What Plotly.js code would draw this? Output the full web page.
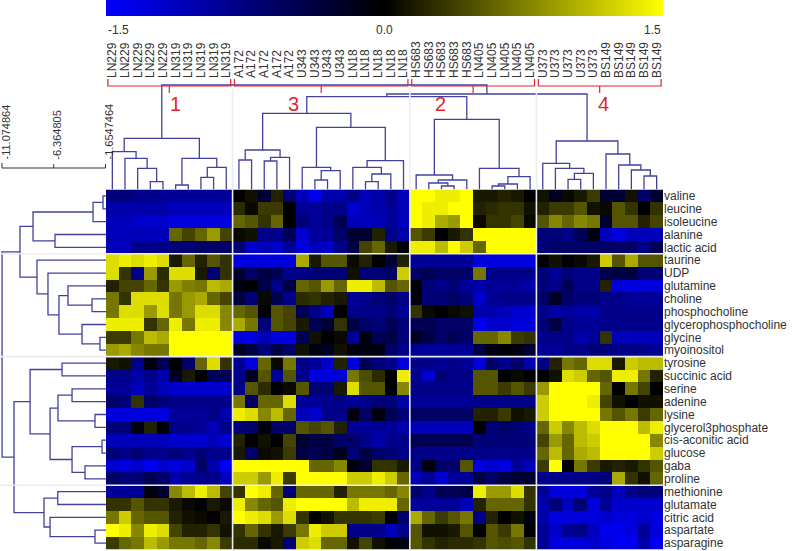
<!DOCTYPE html>
<html><head><meta charset="utf-8">
<script src="https://cdn.plot.ly/plotly-3.0.1.min.js"></script>
<style>html,body{margin:0;padding:0;background:#fff}#chart{width:805px;height:551px}</style>
</head><body><div id="chart"></div>
<script>
// ---------------- data ----------------
var cellLines = ['LN229','LN319','A172','U343','LN18','HS683','LN405','U373','BS149'];
var replicates = [5,5,5,4,5,5,5,5,5];
var metabolites = ['valine','leucine','isoleucine','alanine','lactic acid','taurine','UDP','glutamine','choline','phosphocholine','glycerophosphocholine','glycine','myoinositol','tyrosine','succinic acid','serine','adenine','lysine','glycerol3phosphate','cis-aconitic acid','glucose','gaba','proline','methionine','glutamate','citric acid','aspartate','asparagine'];
var colClusterSizes = [10,14,10,10];
var colClusterNames = ['1','3','2','4'];
var rowClusterSizes = [5,8,10,5];
var colorTicks = [-1.5, 0, 1.5];
var colorTickText = ['-1.5','0.0','1.5'];
var rowScaleTicks = [-11.074864, -6.364805, -1.6547464];
var rowScaleText = ['-11.074864','-6.364805','-1.6547464'];

var zValine = [-0.7,-0.7,-0.8,-0.8,-0.9,-0.9,-0.9,-0.9,-0.9,-0.9, 0,0.1,-0.3,0.2,-0.7,-1.1,-1.4,-1.0,-1.0,-0.8,-1.1,-1.0, -0.8,-1.1, 1.5,1.5,1.4,1.4,1.5, 0.15,0.15,0.2,0.15,0, 0.1,-0.2,0.05,0.15,0.35,-0.3,-0.3,0.1,-0.6,-0.3];
var zLeucine = [-1.0,-1.0,-1.0,-1.0,-1.0,-1.1,-1.1,-1.1,-1.1,-1.1, 0.25,0.05,0.35,0.35,0,-0.9,-0.9,-0.8,-0.8,-1.2,-1.1,-1.0, -0.9,-1.1, 1.5,1.4,1.4,1.5,1.5, 0.2,0.25,0.3,0.3,0.1, 0.2,0.35,0.35,0.5,0.1,0.05,0.5,0.3,0,0.3];
var zIsoleucine = [-1.1,-1.1,-1.2,-1.2,-1.2,-1.3,-1.3,-1.3,-1.3,-1.3, 0.6,0.5,0.3,0.6,0,-0.7,-0.9,-0.8,-0.5,-1.1,-1.1,-1.1, -0.9,-1.1, 1.5,1.4,1.0,0.9,1.5, 0.05,0.3,0.3,0.4,0.05, 0.5,0.8,0.6,0.8,0.7,-0.3,0.5,0.5,0.2,0.4];
var zAlanine = [-1.1,-1.1,-1.1,-1.1,-1.1,0.6,0.4,0.6,0.9,0.4, 0.05,0.1,-0.8,-0.8,-0.5,-1.2,-0.9,-0.9,-0.6,-0.3,-0.3,0.2, -0.8,-1.0, 0.5,0.35,0,0.15,0.3, 1.5,1.5,1.5,1.5,1.5, -0.7,-0.7,-0.8,-0.5,-0.1,-1.1,-1.3,-1.1,-1.1,-1.1];
var zLactic = [-1.1,-1.1,-0.8,-0.8,-0.8,-0.7,-0.7,-0.6,-0.6,-0.6, -0.7,-1.2,-1.1,-1.2,-0.9,-1.3,-1.1,-1.2,-0.8,-0.4,0.4,0.6, 0.15,0, 1.4,1.4,1.1,1.5,1.2, 0.6,1.5,1.5,1.5,1.5, -0.7,-0.6,-0.6,-0.6,-0.6,-0.6,-0.6,-0.6,-0.8,-0.5];
var zTaurine = [1.3,1.4,1.3,1.4,1.3,0.15,0.6,0.2,0.5,0.3, -1.3,-1.3,-1.3,-1.3,-1.3,1.0,0.15,0.5,0.5,0.05,0.2,0, -0.3,0.2, -0.9,-0.9,-0.9,-0.9,-0.9, -1.3,-1.3,-1.3,-1.3,-1.3, 0,0.1,0,0.05,0.15,1.2,0.5,1.0,0.5,0.5];
var zUDP = [1.3,0.3,-0.8,0.9,0.25,1.3,1.3,0.15,-0.7,0.3, -0.3,-0.6,-0.4,-0.5,-0.8,-0.8,-0.7,-0.7,-0.7,0.1,-0.7,-0.7, -0.6,1.2, -0.6,-0.5,-0.6,-0.6,-0.6, 0.7,-0.8,-0.8,-0.8,-0.8, -0.7,-0.9,-0.7,-0.8,-0.8,-0.5,-0.4,-0.4,-0.7,-0.7];
var zGlutamine = [0.2,0.4,0.4,0.6,0.3,0.9,0.75,0.7,1.1,1.0, -0.1,0,-0.4,-0.8,-0.4,0.6,0.5,0.9,0.6,1.4,1.4,1.1, 0.5,0.6, 0,-0.7,-0.8,-0.7,-0.9, -1.0,-0.9,-0.9,-0.9,-1.0, -0.7,-0.8,-0.5,-0.8,-0.8,0.2,-1.3,-1.3,-1.3,-1.3];
var zCholine = [0.7,0.3,1.3,1.3,1.3,0.7,0.9,1.0,0.6,0.4, -0.4,-0.7,0.05,-0.5,-0.8,0.25,0.3,0.2,0.15,-0.9,-0.8,-0.7, -0.6,-0.8, -0.1,-0.7,-0.7,-0.6,-0.7, -1.2,-0.9,-0.8,-0.8,-0.8, -0.6,-0.2,-0.6,-0.7,-0.7,-0.8,-0.8,-0.9,-0.9,-0.9];
var zPhosphocholine = [0.7,1.3,1.3,0.9,1.3,0.7,0.9,1.3,1.3,0.8, 0.6,0.5,0,0.5,0.4,-0.5,-0.8,-1.1,0,-0.8,-0.8,-0.8, -0.7,-0.9, 0.3,0.05,0,0.05,0.1, -1.0,-1.0,-1.1,-1.2,-1.2, -0.8,-1.0,-0.9,-1.0,-1.0,-0.8,-0.8,-0.8,-0.8,-0.8];
var zGPC = [1.4,1.4,1.4,0.3,0.6,1.4,0.7,1.4,1.4,0.8, 1.0,0.7,-0.7,0.5,0.4,0.15,-0.5,-0.3,0.3,-0.4,-0.6,-0.7, -0.5,-0.7, -0.5,-0.5,-0.6,-0.6,-0.6, -1.4,-1.2,-1.2,-1.3,-1.3, -0.7,-0.4,-0.8,-0.9,-0.9,-0.8,-0.8,-0.8,-0.8,-0.8];
var zGlycine = [0.35,0.35,0.7,1.1,1.0,1.5,1.5,1.5,1.5,1.5, -1.3,-1.3,-1.1,-1.3,-1.3,-0.5,0.1,0,0.05,-0.9,-0.1,-0.5, -0.4,-0.7, -0.2,-0.4,-0.6,-0.5,-0.6, 0.6,0.6,0.8,0.35,0.3, -0.8,-0.8,-0.8,-1.0,-0.9,0.3,-1.1,-1.1,-1.1,-1.1];
var zMyoinositol = [0.9,1.0,0.8,0.7,0.7,1.5,1.5,1.5,1.5,1.5, -0.2,-0.4,-0.7,-0.4,-0.6,0.1,-0.1,-0.2,0.1,-0.1,-0.1,-0.1, -0.6,-0.8, -0.9,-0.9,-0.9,-0.9,-0.9, -0.4,-0.1,-0.05,-0.1,-0.3, -0.9,-0.9,-0.8,-0.8,-0.7,-0.7,-0.8,-0.8,-0.8,-0.9];
var zTyrosine = [0.15,0.1,-0.8,-0.1,-0.5,0,-0.6,0.6,1.3,0.3, -0.9,-1.3,0.6,0.05,0.7,-0.8,-0.9,-1.2,0.2,-1.3,-0.5,-0.7, -0.8,-1.3, -0.8,-0.8,-0.9,-0.8,-0.9, -1.3,-0.6,-0.8,-0.6,-1.0, -0.8,0.2,0.7,0.6,1.3,1.3,0.15,1.2,1.1,1.1];
var zSuccinic = [-0.8,-0.8,-1.0,-0.8,-1.0,-0.2,0.15,0,-0.5,-0.5, -0.8,-0.2,0.5,-0.9,0.5,-0.8,-1.3,-1.3,-1.3,0.7,0.45,0.25, 0,1.4, -0.8,-1.2,-0.7,-0.8,-0.8, 0.5,0.5,0,0.05,0, 0,0.1,1.3,1.2,0.6,0.5,1.4,1.4,0.7,0.2];
var zSerine = [-0.9,-0.9,-1.1,-0.9,-1.1,-1.2,-1.2,-1.2,-1.2,-1.2, -0.8,0.5,0.25,0,0.05,0.5,-0.7,-0.7,0.15,1.3,0.5,0.5, 0,0.8, -0.8,-0.8,-0.8,-0.8,-0.8, 0.5,0.5,0.35,0.5,0.35, 0.9,1.5,1.5,1.5,1.5,0.6,0,0.7,0.4,0];
var zAdenine = [-0.6,-0.7,0.3,-0.6,-0.7,-0.8,-0.8,-0.8,-0.8,-0.8, 0.7,-0.6,0.6,0.6,1.3,-0.9,-0.9,-0.8,-0.8,-0.9,-0.8,-0.7, -0.7,-1.0, -0.9,-0.9,-0.9,-0.9,-0.9, -0.8,-0.8,-0.8,-0.8,-0.8, 1.2,1.5,1.5,1.5,1.4,0.4,0.1,0,0.1,0.1];
var zLysine = [-1.3,-1.3,-1.3,-1.3,-1.3,-0.9,-0.9,-0.9,-0.8,-1.0, 1.4,1.3,0.8,1.1,0.6,-1.1,-1.2,-0.8,-0.8,-0.1,-0.6,-0.1, -0.5,-0.7, -0.6,-0.6,-0.6,-0.6,-0.6, 0.2,0.2,0.35,0.1,0.15, 1.2,1.5,1.5,1.5,1.5,0.7,0.5,0.7,0.35,0.6];
var zG3P = [-0.7,-0.7,-0.1,0.2,0,-0.8,-0.8,-0.9,-1.1,-0.8, -0.7,-0.6,-0.1,-0.6,-0.6,0.5,0.4,0.5,0.2,-0.9,-0.9,-0.9, -0.9,-1.0, -1.1,-1.1,-1.1,-1.1,-1.1, 0,-0.7,-0.6,-0.7,-0.8, 0.6,1.2,0.8,1.1,1.3,1.5,1.5,1.5,1.1,1.4];
var zCisAconitic = [-1.1,-1.1,-1.1,-1.1,-1.1,-1.2,-1.2,-1.2,-1.1,-1.2, 0.2,0,0.1,0,0.4,-0.3,-0.4,-0.4,-0.6,-0.6,-0.8,-1.0, -0.8,-0.8, -0.5,-0.5,-0.5,-0.5,-0.5, -0.7,-0.7,-0.7,-0.7,-0.7, 0.4,0.9,0.6,1.1,1.2,1.5,1.5,1.5,1.5,0.8];
var zGlucose = [-0.7,-0.8,-0.7,-0.8,-0.8,-0.7,-0.8,-0.7,-0.8,-0.8, 0.15,-0.6,0.05,0.1,0.35,-0.4,-0.5,-0.4,-0.2,-0.7,-0.4,-0.6, -0.7,-0.8, -0.8,-0.8,-0.8,-0.8,-0.8, -0.8,-0.8,-0.8,-0.8,-0.8, 0.6,1.1,0.6,1.0,1.1,1.5,1.5,1.5,1.5,1.2];
var zGaba = [-1.2,-1.3,-1.2,-1.4,-1.2,-1.3,-1.2,-0.6,-1.0,-1.4, 1.5,1.5,1.5,1.5,1.5,1.5,0.6,0.6,0.8,-0.1,-0.3,0.3, 0.3,0.15, -0.8,-0.1,-0.6,-0.6,0.5, -1.3,-1.2,-1.3,-0.9,-1.1, 0.35,1.5,0,0.7,0.35,0.15,0.2,0.15,0.3,0.5];
var zProline = [-0.6,-0.7,-0.7,-0.5,-0.6,-1.0,-0.9,-0.8,-0.8,-1.1, 1.2,1.2,0.9,1.4,0.35,1.5,1.5,1.5,1.5,1.2,1.2,1.4, 1.2,0.6, -1.1,-0.9,-1.2,-0.9,-0.9, -0.4,-0.6,-0.4,-0.3,-0.3, -0.8,-0.8,-0.8,-0.8,-0.8,-0.7,1.0,0.3,0.1,0.6];
var zMethionine = [-0.9,-0.9,-0.9,-0.1,-0.3,0.8,1.1,1.4,1.1,0.4, 0.3,1.5,1.4,0.6,-0.7,0.6,0.6,0.6,0.2,0.7,0.7,0.7, 0.6,0.8, -0.6,-0.8,-0.5,-0.5,-0.4, 1.4,0.9,0.9,1.3,0.3, -0.9,-1.3,-1.3,-1.3,-0.9,-0.8,-1.1,-0.8,-0.7,-0.7];
var zGlutamate = [0.3,0.3,0.5,0.3,0.3,0.15,0.05,0,0.15,0.05, 1.4,0.8,0.6,0.5,1.4,1.5,1.5,1.5,1.5,1.1,1.4,1.4, 1.4,0.6, -0.9,-0.9,-0.9,-0.9,-1.1, 0.2,0.6,0.6,0.6,0.3, -1.0,-0.7,-1.1,-0.7,-1.3,-0.9,-1.2,-1.2,-1.2,-1.2];
var zCitric = [0.7,1.2,0.6,0.5,0.5,0.2,0.1,0.05,0,0.15, 1.5,1.4,1.3,0.9,1.3,0.3,0,0.1,0.3,0.3,0.3,0.35, 0,-0.6, 1.0,0.6,0.35,0.5,0.7, -0.8,0.2,0,0.1,-0.1, -1.0,-1.3,-1.3,-1.3,-1.3,-1.2,-1.3,-1.3,-1.2,-1.3];
var zAspartate = [1.5,1.4,0.8,1.4,1.3,0.4,0.2,0.2,0.3,0.1, 0.3,0.6,0.3,0.15,0.35,0.7,1.4,1.2,1.2,-0.8,-0.8,-0.8, -1.1,-0.8, 0.5,0.1,0.1,0.15,0.5, 0,0.5,0.35,0.7,0, -0.9,-1.2,-0.9,-0.8,-1.1,-1.4,-1.4,-1.3,-0.9,-1.3];
var zAsparagine = [0.35,0.6,0.7,1.1,0.9,0.7,0.7,0.6,0.8,0.35, 0.25,0.25,0.05,0.15,-0.7,1.2,1.3,0.6,0.6,0.1,0.4,0.1, 0,-0.1, 0.5,0.3,0.2,0.25,0.25, 0.3,0.5,0.45,0.5,0.3, -0.9,-1.3,-1.3,-1.3,-1.2,-1.3,-1.4,-1.4,-1.0,-1.4];

// dendrograms: [left, right, mergeHeight]; leaves are column / row indices
var colG1 = [[0,[1,[2,[3,4,7.8],21.2],31.2],37.8], [[5,6,4.5],[[7,8,12.2],9,22.2],31.2], 51.2];
var colG3 = [[[10,11,29.5],[[12,13,28.5],14,32.2],39.5], [[15,[[16,17,9.5],18,18.8],22.2],[[19,[[20,21,7.8],22,15.5],22.2],23,28.8],62.2], 76.2];
var colG2 = [[24,[[25,[26,27,3.5],6.5],28,9.5],14.5], [29,[[[30,31,3.5],32,5.5],33,12.8],21.2], 70.2];
var colG4 = [[34,[35,[[36,37,10.2],38,16.2],21.2],26.2], [39,[40,[41,[42,43,13.5],19.5],24.5],35.5], 48.5];
var colTree = [colG1, [[colG3, colG2, 92.8], colG4, 95.5], 104.5];

var rowA = [[[0,1,-1.88],2,-2.79], [3,4,-6.25], -8.25];
var rowB = [5,[6,[[7,[8,9,-2.88],-5.07],[10,[11,12,-2.16],-3.79],-5.89],-6.89],-7.89];
var rowC = [[13,14,-5.61],[[[15,16,-4.70],[17,18,-2.61],-5.98],[[19,20,-1.97],[21,22,-3.52],-4.70],-6.70],-8.52];
var rowD = [[23,24,-6.0],[25,[26,27,-2.61],-6.70],-7.25];
var rowTree = [[rowA, rowB, -9.44], [rowC, rowD, -9.98], -11.07];

// ---------------- build ----------------
var W = 805, H = 551;
function px(v) { return v / W; }
function py(v) { return 1 - v / H; }
var colLabels = [];
for (var i = 0; i < cellLines.length; i++) for (var k = 0; k < replicates[i]; k++) colLabels.push(cellLines[i]);
var nCol = colLabels.length, nRow = metabolites.length;
var z = [zValine,zLeucine,zIsoleucine,zAlanine,zLactic,zTaurine,zUDP,zGlutamine,zCholine,zPhosphocholine,zGPC,zGlycine,zMyoinositol,zTyrosine,zSuccinic,zSerine,zAdenine,zLysine,zG3P,zCisAconitic,zGlucose,zGaba,zProline,zMethionine,zGlutamate,zCitric,zAspartate,zAsparagine];
var colIdx = [], rowIdx = [];
for (i = 0; i < nCol; i++) colIdx.push(i);
for (i = 0; i < nRow; i++) rowIdx.push(i);

var HM = {l:106, r:663, t:189.5, b:549.5};
var rowRange = [-11.2569, -1.6092];
var zMin = -1.5, zMax = 1.5;

function walk(node, leafH, pts) {
  if (typeof node === 'number') return {p: node, h: leafH};
  var a = walk(node[0], leafH, pts), b = walk(node[1], leafH, pts), h = node[2];
  pts.push([a.p, a.h], [a.p, h], [b.p, h], [b.p, b.h], null);
  return {p: (a.p + b.p) / 2, h: h};
}
var cPts = []; walk(colTree, 0, cPts);
var rPts = []; walk(rowTree, rowRange[1], rPts);
var dColor = '#41419c';
var font = 'Liberation Sans, Arial, sans-serif';
var txt = '#333';

var traces = [
  {type:'heatmap', z:z, x:colIdx, y:rowIdx, zmin:zMin, zmax:zMax,
   colorscale:[[0,'rgb(0,0,255)'],[0.5,'rgb(0,0,0)'],[1,'rgb(255,255,0)']],
   hoverinfo:'skip',
   colorbar:{orientation:'h', x:px(HM.l), xanchor:'left', y:1, yanchor:'top', ypad:0, xpad:0,
     len:HM.r - HM.l, lenmode:'pixels', thickness:16, thicknessmode:'pixels', outlinewidth:0,
     tickvals:colorTicks, showticklabels:false, ticks:''}},
  {type:'scatter', mode:'lines', xaxis:'x2', yaxis:'y2', hoverinfo:'skip',
   x: cPts.map(function (p) { return p ? p[0] : null; }), y: cPts.map(function (p) { return p ? p[1] : null; }),
   line:{color:dColor, width:1.3}},
  {type:'scatter', mode:'lines', xaxis:'x3', yaxis:'y3', hoverinfo:'skip',
   x: rPts.map(function (p) { return p ? p[1] : null; }), y: rPts.map(function (p) { return p ? p[0] : null; }),
   line:{color:dColor, width:1.3}}
];

var shapes = [];
var sep = 'rgb(236,236,246)';
var red = '#e0262c';
var acc = 0;
colClusterSizes.forEach(function (s, j) {
  var a = acc - 0.5, b = acc + s - 0.5;
  if (j > 0) shapes.push({type:'line', xref:'x', yref:'paper', x0:a, x1:a, y0:py(HM.b), y1:py(89), line:{color:sep, width:1.6}, layer:'above'});
  var x0 = a + 0.15, x1 = b - 0.15, xc = (a + b) / 2;
  shapes.push({type:'path', xref:'x', yref:'paper', layer:'above', line:{color:red, width:1.2},
    path:'M' + x0 + ',' + py(79) + ' L' + x0 + ',' + py(86) + ' L' + x1 + ',' + py(86) + ' L' + x1 + ',' + py(79) +
         ' M' + xc + ',' + py(86) + ' L' + xc + ',' + py(93)});
  acc += s;
});
acc = 0;
rowClusterSizes.forEach(function (s, j) {
  if (j > 0) shapes.push({type:'line', xref:'paper', yref:'y', x0:0, x1:px(HM.r), y0:acc - 0.5, y1:acc - 0.5, line:{color:sep, width:1.6}, layer:'above'});
  acc += s;
});
// distance scale of the row dendrogram ("[" bracket with ticks)
var sL = rowScaleTicks[0], sM = rowScaleTicks[1], sR = rowScaleTicks[2];
shapes.push({type:'path', xref:'x3', yref:'paper', line:{color:'#333', width:1},
  path:'M' + sL + ',' + py(163) + ' L' + sL + ',' + py(168) + ' L' + sR + ',' + py(168) + ' L' + sR + ',' + py(164) +
       ' M' + sM + ',' + py(168) + ' L' + sM + ',' + py(164)});

var annotations = [];
var numPos = [175, 293, 440, 603];
colClusterNames.forEach(function (n, j) {
  annotations.push({text:n, xref:'paper', yref:'paper', x:px(numPos[j]), y:py(104), xanchor:'center', yanchor:'middle',
    showarrow:false, font:{family:font, size:20, color:red}});
});
var cbAnchors = ['left', 'center', 'right'];
colorTicks.forEach(function (v, j) {
  annotations.push({text:colorTickText[j], xref:'paper', yref:'paper',
    x:px(HM.l + (v - zMin) / (zMax - zMin) * (HM.r - HM.l)), y:py(30), xanchor:cbAnchors[j], yanchor:'middle',
    showarrow:false, font:{family:font, size:12, color:txt}});
});
rowScaleTicks.forEach(function (v, j) {
  annotations.push({text:rowScaleText[j], xref:'x3', yref:'paper', x:v, xshift:3, y:py(162), xanchor:'center', yanchor:'bottom',
    textangle:-90, showarrow:false, font:{family:font, size:11, color:txt}});
});

function ax(o) {
  var base = {showgrid:false, zeroline:false, showline:false, ticks:'', fixedrange:true};
  for (var key in o) base[key] = o[key];
  return base;
}
var layout = {
  width:W, height:H, margin:{l:0, r:0, t:0, b:0}, paper_bgcolor:'#fff', plot_bgcolor:'rgba(0,0,0,0)',
  showlegend:false, hovermode:false,
  xaxis: ax({domain:[px(HM.l), px(HM.r)], range:[-0.5, nCol - 0.5], showticklabels:false, anchor:'y'}),
  yaxis: ax({domain:[py(HM.b), py(HM.t)], range:[nRow - 0.5, -0.5], side:'right', anchor:'x',
    tickvals:rowIdx, ticktext:metabolites, tickfont:{family:font, size:12, color:txt}}),
  xaxis2: ax({domain:[px(HM.l), px(HM.r)], range:[-0.5, nCol - 0.5], anchor:'y2', side:'top',
    tickvals:colIdx, ticktext:colLabels, tickangle:-90, tickfont:{family:font, size:12, color:txt}}),
  yaxis2: ax({domain:[py(HM.t), py(79)], range:[0, 110.5], anchor:'x2', showticklabels:false}),
  xaxis3: ax({domain:[0, px(HM.l)], range:rowRange, anchor:'y3', showticklabels:false}),
  yaxis3: ax({domain:[py(HM.b), py(HM.t)], range:[nRow - 0.5, -0.5], anchor:'x3', showticklabels:false}),
  shapes:shapes, annotations:annotations
};
Plotly.newPlot('chart', traces, layout, {staticPlot:true, displayModeBar:false});
</script></body></html>
